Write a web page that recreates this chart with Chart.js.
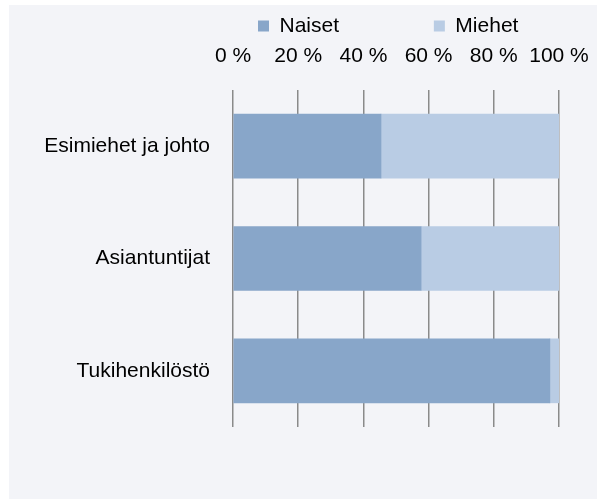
<!DOCTYPE html>
<html>
<head>
<meta charset="utf-8">
<script src="https://cdn.jsdelivr.net/npm/chart.js@4/dist/chart.umd.min.js"></script>
<style>
  html, body { margin: 0; padding: 0; background: #ffffff; }
  #wrap { width: 597px; height: 499px; }
</style>
</head>
<body>
<div id="wrap"><canvas id="c" width="597" height="499"></canvas></div>
<script>
const categories = ["Esimiehet ja johto", "Asiantuntijat", "Tukihenkilöstö"];
const naiset = [45.4, 57.7, 97.2];
const miehet = [54.6, 42.3, 2.8];
const seriesNames = ["Naiset", "Miehet"];
const tickValues = [0, 20, 40, 60, 80, 100];

const FONT = "'Liberation Sans', Arial, sans-serif";

const panelPlugin = {
  id: 'panel',
  beforeDraw(chart) {
    const ctx = chart.ctx;
    ctx.save();
    ctx.fillStyle = '#ffffff';
    ctx.fillRect(0, 0, chart.width, chart.height);
    ctx.fillStyle = '#f3f4f8';
    ctx.fillRect(9, 5, chart.width - 9, chart.height - 5);
    ctx.restore();
  }
};

new Chart(document.getElementById('c'), {
  type: 'bar',
  data: {
    labels: categories,
    datasets: [
      { label: seriesNames[0], data: naiset, backgroundColor: '#88a6c9', borderWidth: 0, barThickness: 64 },
      { label: seriesNames[1], data: miehet, backgroundColor: '#b9cce4', borderWidth: 0, barThickness: 64 }
    ]
  },
  options: {
    indexAxis: 'y',
    responsive: false,
    animation: false,
    devicePixelRatio: 1,
    layout: { padding: { top: -9.5, left: 9, right: 38, bottom: 72 } },
    plugins: {
      tooltip: { enabled: false },
      legend: {
        position: 'top',
        align: 'start',
        fullSize: false,
        labels: {
          color: '#000000',
          font: { family: FONT, size: 21 },
          boxWidth: 11,
          boxHeight: 11,
          padding: 25,
          generateLabels(chart) {
            const items = Chart.defaults.plugins.legend.labels.generateLabels(chart);
            const spacer = { text: '    ', fillStyle: 'rgba(0,0,0,0)', strokeStyle: 'rgba(0,0,0,0)', lineWidth: 0, hidden: false, datasetIndex: -1 };
            return [items[0], spacer, items[1]];
          }
        }
      }
    },
    scales: {
      x: {
        position: 'top',
        stacked: true,
        min: 0,
        max: 100,
        afterBuildTicks(s) { s.ticks = tickValues.map(v => ({ value: v })); },
        afterFit(s) { s.height = 43.5; s.paddingLeft = 0; s.paddingRight = 0; },
        ticks: {
          color: '#000000',
          font: { family: FONT, size: 21 },
          padding: 21.4,
          maxRotation: 0,
          callback: v => v + ' %'
        },
        grid: { color: '#8a8a8a', lineWidth: 1.5, drawTicks: false },
        border: { display: false }
      },
      y: {
        stacked: true,
        afterFit(s) { s.width = 224; s.paddingTop = 0; s.paddingBottom = 0; },
        ticks: {
          color: '#000000',
          font: { family: FONT, size: 21 },
          padding: 23
        },
        grid: { display: false, drawTicks: false },
        border: { display: false }
      }
    }
  },
  plugins: [panelPlugin]
});
</script>
</body>
</html>
